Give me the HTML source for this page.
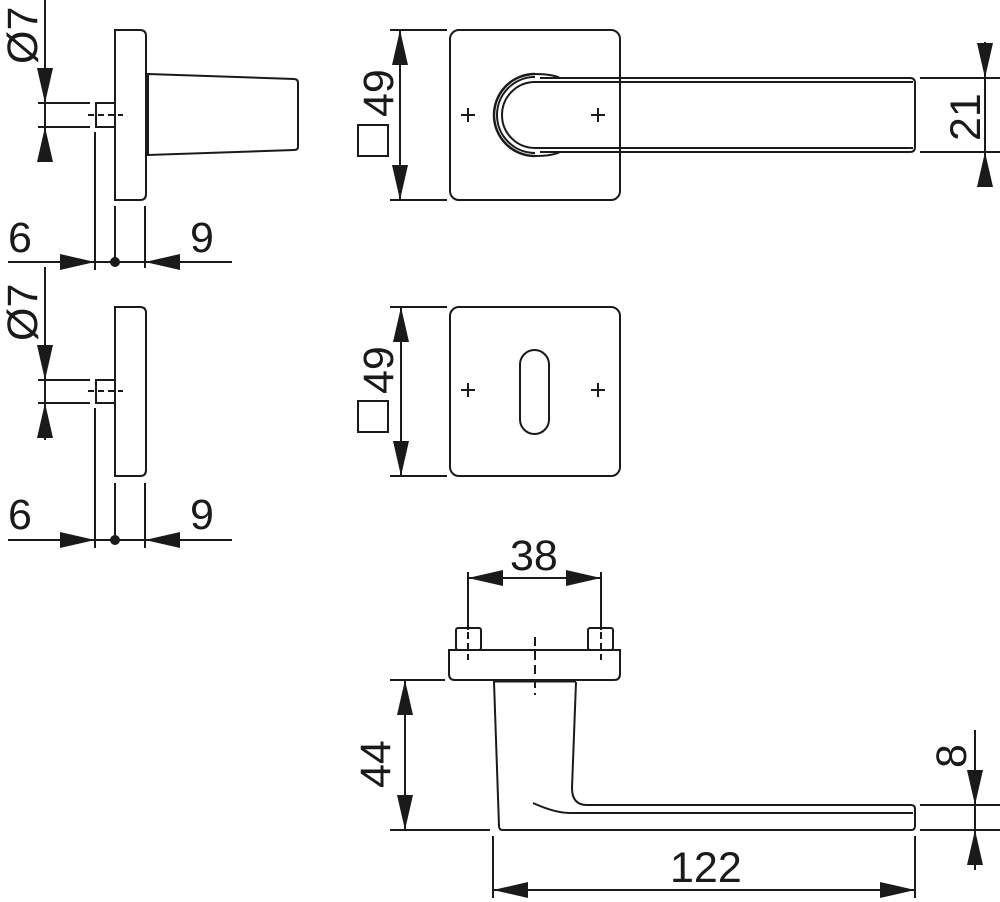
<!DOCTYPE html>
<html><head><style>html,body{margin:0;padding:0;background:#fff}svg{display:block}</style></head>
<body>
<svg width="1000" height="902" viewBox="0 0 1000 902" xmlns="http://www.w3.org/2000/svg" font-family="Liberation Sans, sans-serif" fill="none" stroke="#1a1a1a" stroke-width="2">
<defs>
<path id="ad" d="M0 0 L-8 -35 L8 -35 Z" fill="#1a1a1a" stroke="none"/>
</defs>
<g fill="#1a1a1a" stroke="none" font-size="43">
<text x="8" y="252">6</text>
<text x="190" y="252">9</text>
<text x="8" y="529">6</text>
<text x="190" y="529">9</text>
<text x="510" y="570">38</text>
<text x="670" y="882">122</text>
<text transform="translate(37,64) rotate(-90)">Ø7</text>
<text transform="translate(37,341) rotate(-90)">Ø7</text>
<text transform="translate(393,117) rotate(-90)">49</text>
<text transform="translate(393,394) rotate(-90)">49</text>
<text transform="translate(390,788) rotate(-90)">44</text>
<text transform="translate(980,141) rotate(-90)">21</text>
<text transform="translate(966,768) rotate(-90)">8</text>
</g>
<rect x="358" y="125" width="30" height="31"/>
<rect x="358" y="401" width="30" height="31"/>

<!-- top-left view -->
<path d="M115 30 H140 Q146 30 146 36 V194 Q146 200 140 200 H115 Z"/>
<path d="M148 74 L294 79 Q298 79 298 83 V147 Q298 150 294 150 L148 155 Z"/>
<rect x="146" y="77" width="2" height="76" fill="#1a1a1a"/>
<rect x="96" y="103" width="19" height="24"/>
<path d="M88 115 H123" stroke-dasharray="6 4"/>
<path d="M45 0 V162 M38 103 H90 M38 127 H90"/>
<use href="#ad" transform="translate(45,103)"/>
<use href="#ad" transform="translate(45,127) rotate(180)"/>
<path d="M95 132 V270 M115 206 V262 M145 206 V268 M8 262 H232"/>
<use href="#ad" transform="translate(95,262) rotate(-90)"/>
<use href="#ad" transform="translate(145,262) rotate(90)"/>
<circle cx="115" cy="262" r="4" fill="#1a1a1a"/>

<!-- second left view -->
<path d="M115 307 H140 Q146 307 146 313 V470 Q146 476 140 476 H115 Z"/>
<rect x="96" y="380" width="19" height="23"/>
<path d="M88 391 H123" stroke-dasharray="6 4"/>
<path d="M45 267 V440 M38 380 H90 M38 403 H90"/>
<use href="#ad" transform="translate(45,380)"/>
<use href="#ad" transform="translate(45,403) rotate(180)"/>
<path d="M95 408 V548 M115 483 V540 M145 483 V548 M8 540 H232"/>
<use href="#ad" transform="translate(95,540) rotate(-90)"/>
<use href="#ad" transform="translate(145,540) rotate(90)"/>
<circle cx="115" cy="540" r="4" fill="#1a1a1a"/>

<!-- top rose with lever -->
<rect x="450" y="30" width="170" height="170" rx="9"/>
<path d="M400 30 V200 M390 30 H447 M390 200 H447"/>
<use href="#ad" transform="translate(400,30) rotate(180)"/>
<use href="#ad" transform="translate(400,200)"/>
<path d="M461 115 H475 M468 108 V122 M591 115 H605 M598 108 V122"/>
<path d="M535 75 A40 40 0 0 0 535 155" fill="#fff" stroke="none"/>
<path d="M540 78 H910 Q915 78 915 83 V147 Q915 152 910 152 H540"/>
<path d="M913 82 H535 A33 33 0 0 0 535 148 H913"/>
<path d="M535 74 A41 41 0 0 0 535 156" stroke-width="2.5"/>
<path d="M535 77 A38 38 0 0 0 535 153"/>
<path d="M535 74 Q552 74 560 78 M535 156 Q552 156 560 152"/>
<path d="M920 78 H1000 M920 152 H1000 M985 42 V185"/>
<use href="#ad" transform="translate(985,78)"/>
<use href="#ad" transform="translate(985,152) rotate(180)"/>

<!-- keyhole rose -->
<rect x="450" y="307" width="170" height="169" rx="9"/>
<rect x="520" y="350" width="29" height="84" rx="14.5"/>
<path d="M461 390 H475 M468 383 V397 M591 390 H605 M598 383 V397"/>
<path d="M401 307 V476 M390 307 H447 M390 476 H447"/>
<use href="#ad" transform="translate(401,307) rotate(180)"/>
<use href="#ad" transform="translate(401,476)"/>

<!-- side view -->
<path d="M468 572 V630 M601 572 V630 M468 578 H601"/>
<use href="#ad" transform="translate(468,578) rotate(90)"/>
<use href="#ad" transform="translate(601,578) rotate(-90)"/>
<rect x="456" y="628" width="25" height="22" rx="2"/>
<rect x="588" y="628" width="25" height="22" rx="2"/>
<path d="M468 632 V660 M601 632 V660" stroke-dasharray="7 4"/>
<path d="M449 650 H620 V674 Q620 680 614 680 H455 Q449 680 449 674 Z"/>
<path d="M535 637 V695" stroke-dasharray="9 5"/>
<path d="M494 682 L499 826 Q499 830 503 830 H911 Q915 830 915 826 V809 Q915 805 911 805 H587 Q572 805 572 788 L576 682"/>
<path d="M493 681 H576" stroke-width="3"/>
<path d="M533 803 Q555 813 570 813 H913"/>
<path d="M390 680 H445 M390 830 H490 M405 680 V830"/>
<use href="#ad" transform="translate(405,680) rotate(180)"/>
<use href="#ad" transform="translate(405,830)"/>
<path d="M920 805 H1000 M920 830 H1000 M975 730 V870"/>
<use href="#ad" transform="translate(975,805)"/>
<use href="#ad" transform="translate(975,830) rotate(180)"/>
<path d="M493 836 V898 M915 836 V898 M493 890 H915"/>
<use href="#ad" transform="translate(493,890) rotate(90)"/>
<use href="#ad" transform="translate(915,890) rotate(-90)"/>
</svg>
</body></html>
